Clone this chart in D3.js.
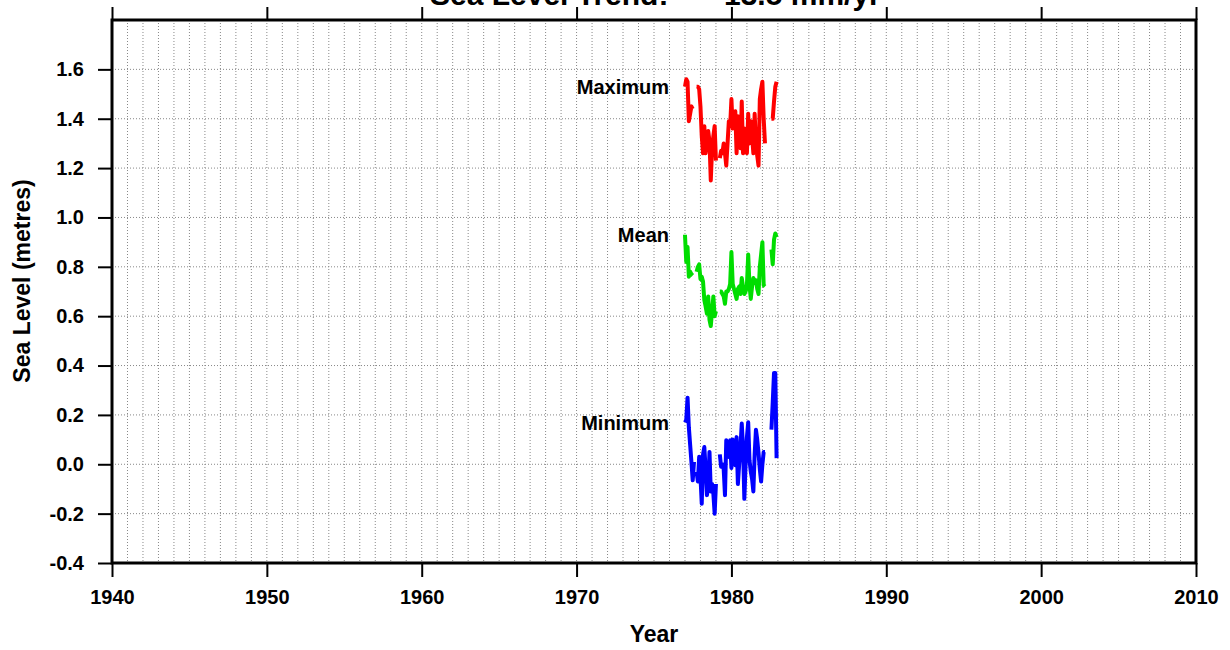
<!DOCTYPE html>
<html>
<head>
<meta charset="utf-8">
<script src="https://cdn.jsdelivr.net/npm/d3@7/dist/d3.min.js"></script>
<style>
  html, body { margin: 0; padding: 0; background: #fff; }
  svg { display: block; font-family: "Liberation Sans", Arial, sans-serif; font-weight: bold; }
</style>
</head>
<body>
<svg id="chart" width="1230" height="650"></svg>
<script>
// ---- data ----
const startYear = 1977;            // first month of record (Jan 1977)
const seriesNames = ["Maximum", "Mean", "Minimum"];
const seriesColors = ["#ff0000", "#00dd00", "#0000ff"];
const maximum = [1.53,1.56,1.55,1.39,1.42,1.45,1.44,null,null,1.53,1.53,1.52,
  1.45,1.33,1.26,1.37,1.26,1.31,1.35,1.31,1.15,1.28,1.33,1.37,
  1.23,null,null,1.24,1.27,1.26,1.30,1.26,1.21,1.30,1.39,1.37,
  1.48,1.36,1.40,1.43,1.26,1.41,1.33,1.28,1.47,1.26,1.36,1.30,
  1.26,1.42,1.30,1.39,1.33,1.26,1.42,1.30,1.25,1.21,1.48,1.52,
  1.55,1.40,1.30,null,null,null,null,1.40,1.40,1.47,1.53,1.55];
const mean = [0.93,0.82,0.88,0.76,0.78,0.77,0.765,null,null,0.78,0.80,0.81,
  0.75,0.76,0.74,0.665,0.64,0.61,0.68,0.585,0.56,0.62,0.68,0.60,
  0.62,null,null,0.70,0.70,0.69,0.68,0.65,0.70,0.70,0.71,0.73,
  0.86,0.73,0.71,0.69,0.67,0.71,0.72,0.69,0.755,0.72,0.69,0.70,
  0.725,0.85,0.725,0.67,0.72,0.755,0.735,0.745,0.71,0.69,0.80,0.85,
  0.90,0.725,0.72,null,null,null,null,0.87,0.81,0.91,0.935,0.92];
const minimum = [0.17,0.18,0.27,0.15,0.08,0.01,-0.065,0.01,null,-0.03,-0.07,0.03,
  -0.05,-0.16,0.04,0.07,-0.02,-0.125,-0.09,0.05,-0.11,-0.08,-0.12,-0.20,
  -0.08,null,null,0.04,-0.01,0.0,-0.02,-0.125,0.097,0.05,0.03,0.097,
  -0.015,0.10,0.04,-0.004,0.11,-0.08,0.0,0.07,0.165,0.07,-0.14,0.0,
  0.11,0.17,0.016,-0.03,-0.06,-0.11,0.04,0.14,0.10,0.045,-0.02,-0.07,
  0.0,0.05,0.05,null,null,null,null,0.14,0.25,0.37,0.37,0.025];
const xTicks = [1940,1950,1960,1970,1980,1990,2000,2010];
const yTicks = [-0.4,-0.2,0.0,0.2,0.4,0.6,0.8,1.0,1.2,1.4,1.6];
const titleLeft = "Sea Level Trend:";
const titleRight = "13.5 mm/yr";
const xTitle = "Year";
const yTitle = "Sea Level (metres)";

// ---- layout ----
const svg = d3.select("#chart");
const L = 112, R = 1196, T = 20, B = 563;
const x = d3.scaleLinear().domain([1940, 2010]).range([L, R]);
const y = d3.scaleLinear().domain([-0.4, 1.8]).range([B, T]);

// grid
const gridYears = d3.range(1941, 2010);
svg.append("g").selectAll("line").data(gridYears).join("line")
  .attr("x1", d => x(d)).attr("x2", d => x(d)).attr("y1", T).attr("y2", B)
  .attr("stroke", "#888").attr("stroke-width", 1).attr("stroke-dasharray", "1,2");
svg.append("g").selectAll("line").data(yTicks.slice(1)).join("line")
  .attr("x1", L).attr("x2", R).attr("y1", d => y(d)).attr("y2", d => y(d))
  .attr("stroke", "#888").attr("stroke-width", 1).attr("stroke-dasharray", "1,2");

// series
const allSeries = [maximum, mean, minimum];
const line = d3.line()
  .defined(d => d.v !== null)
  .x(d => x(d.t)).y(d => y(d.v));
allSeries.forEach((vals, k) => {
  const pts = vals.map((v, i) => ({ t: startYear + i / 12, v }));
  svg.append("path").datum(pts)
    .attr("d", line).attr("fill", "none")
    .attr("stroke", seriesColors[k]).attr("stroke-width", 4)
    .attr("stroke-linejoin", "round");
  const first = pts.find(p => p.v !== null);
  svg.append("text").attr("x", x(startYear) - 16).attr("y", y(first.v) + 2)
    .attr("text-anchor", "end").attr("dominant-baseline", "middle")
    .attr("font-size", 20).attr("fill", "#000").text(seriesNames[k]);
});

// axes
const fmt = v => v.toFixed(1);
const xAxis = d3.axisBottom(x).tickValues(xTicks).tickSize(14).tickPadding(13).tickFormat(d3.format("d"));
const gx = svg.append("g").attr("transform", `translate(0,${B})`).call(xAxis);
const gxt = svg.append("g").attr("transform", `translate(0,${T})`)
  .call(d3.axisTop(x).tickValues(xTicks).tickSize(13).tickFormat(""));
const yAxis = d3.axisLeft(y).tickValues(yTicks).tickSize(14).tickPadding(14).tickFormat(fmt);
const gy = svg.append("g").attr("transform", `translate(${L},0)`).call(yAxis);
[gx, gxt, gy].forEach(g => {
  g.select(".domain").remove();
  g.selectAll("line").attr("stroke", "#000").attr("stroke-width", 2);
  g.selectAll("text").attr("font-size", 20).attr("font-family", "Liberation Sans, Arial, sans-serif")
    .attr("font-weight", "bold").attr("fill", "#000");
});

// frame
svg.append("rect").attr("x", L).attr("y", T).attr("width", R - L).attr("height", B - T)
  .attr("fill", "none").attr("stroke", "#000").attr("stroke-width", 3);

// titles
const tt = svg.append("text").attr("y", 5).attr("font-size", 30).attr("fill", "#000");
tt.append("tspan").attr("x", 430).text(titleLeft);
tt.append("tspan").attr("x", 724).text(titleRight);
svg.append("text").attr("x", (L + R) / 2).attr("y", 642).attr("text-anchor", "middle")
  .attr("font-size", 23).attr("fill", "#000").text(xTitle);
svg.append("text").attr("transform", "translate(30,281) rotate(-90)").attr("text-anchor", "middle")
  .attr("font-size", 23).attr("fill", "#000").text(yTitle);
</script>
</body>
</html>
